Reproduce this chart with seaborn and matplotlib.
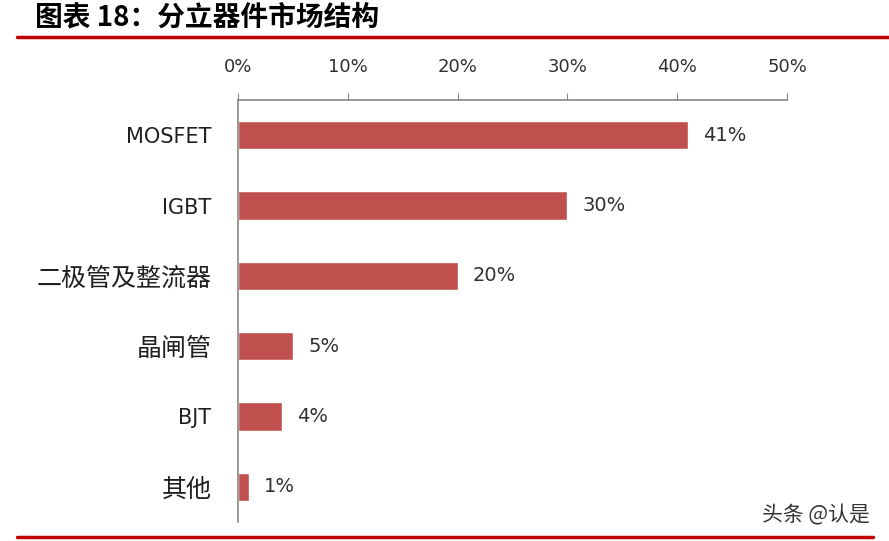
import matplotlib
matplotlib.use("Agg")
import matplotlib.pyplot as plt
import seaborn as sns
import pandas as pd
from matplotlib.lines import Line2D

categories = ["MOSFET", "IGBT", "二极管及整流器", "晶闸管", "BJT", "其他"]
shares = [41, 30, 20, 5, 4, 1]
x_ticks = [0, 10, 20, 30, 40, 50]

sns.set_style("white")
plt.rcParams['font.family'] = ['DejaVu Sans', 'Noto Sans CJK SC']

data = pd.DataFrame({"cat": categories, "share": shares})

fig = plt.figure(figsize=(8.89, 5.41), dpi=100)
ax = fig.add_axes([238 / 889, 1 - 522 / 541, (787 - 238) / 889, (522 - 100) / 541])

sns.barplot(data=data, x="share", y="cat", orient="h", color="#C0504D",
            saturation=1, width=0.4, ax=ax)

ax.set_xlim(0, 50)
ax.set_ylim(5.5, -0.5)
ax.xaxis.tick_top()
ax.set_xticks(x_ticks)
ax.set_xticklabels([f"{t}%" for t in x_ticks], fontsize=13, color="#303030")
ax.set_yticks([i + 0.5 for i in range(-1, 6)], minor=True)
ax.set_yticks(range(len(categories)))
ax.set_yticklabels(categories, color="#202020")
for lab in ax.get_yticklabels():
    if lab.get_text().isascii():
        lab.set_fontsize(15)
    else:
        lab.set_family(['Noto Sans CJK SC'])
        lab.set_fontsize(18)
ax.tick_params(axis="y", which="major", length=0, pad=19)
ax.tick_params(axis="y", which="minor", length=6, color="#868686", direction="out")
ax.tick_params(axis="x", length=5, color="#868686", direction="out", pad=12)
ax.set_xlabel("")
ax.set_ylabel("")
for s in ["right", "bottom"]:
    ax.spines[s].set_visible(False)
for s in ["left", "top"]:
    ax.spines[s].set_color("#868686")
    ax.spines[s].set_linewidth(1.2)

for i, v in enumerate(shares):
    ax.text(v + 1.4, i, f"{v}%", va="center", ha="left", fontsize=14, color="#303030")

fig.text(35 / 889, 1 - 17 / 541, "图表 18：分立器件市场结构", fontsize=20,
         fontweight="bold", fontstyle="italic", va="center", ha="left", color="black",
         family=['Noto Sans CJK SC', 'DejaVu Sans'])
fig.add_artist(Line2D([17 / 889, 1], [1 - 37 / 541] * 2, color="#C00000", lw=2.5))
fig.add_artist(Line2D([17 / 889, 873 / 889], [1 - 537 / 541] * 2, color="#C00000", lw=2.5))
fig.text(870 / 889, 1 - 515 / 541, "头条 @认是", fontsize=15, ha="right", va="center",
         color="#333333", family=['Noto Sans CJK SC', 'DejaVu Sans'])

fig.savefig("out.png", dpi=100)
